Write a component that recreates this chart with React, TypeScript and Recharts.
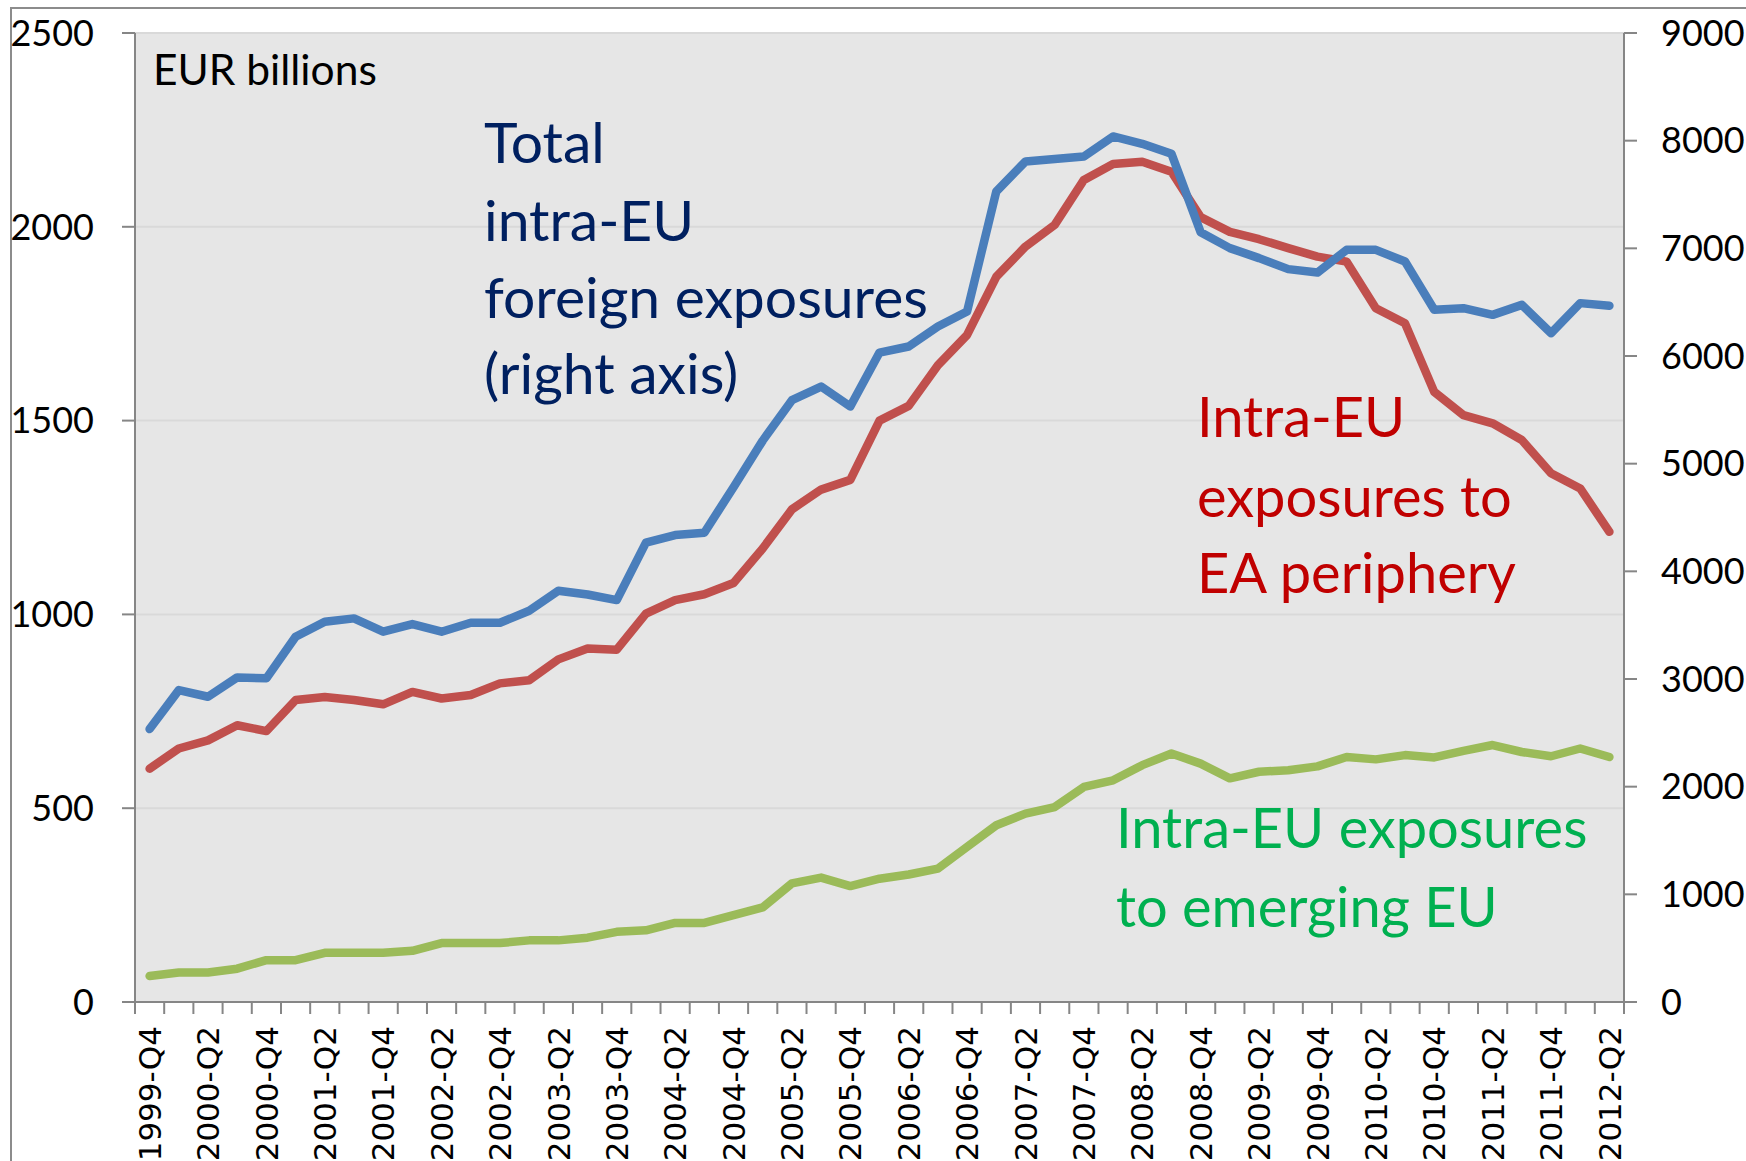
import { LineChart, Line, XAxis, YAxis, CartesianGrid } from "recharts";

const quarters = [
  "1999-Q4", "2000-Q1", "2000-Q2", "2000-Q3", "2000-Q4", "2001-Q1", "2001-Q2", "2001-Q3", "2001-Q4",
  "2002-Q1", "2002-Q2", "2002-Q3", "2002-Q4", "2003-Q1", "2003-Q2", "2003-Q3", "2003-Q4",
  "2004-Q1", "2004-Q2", "2004-Q3", "2004-Q4", "2005-Q1", "2005-Q2", "2005-Q3", "2005-Q4",
  "2006-Q1", "2006-Q2", "2006-Q3", "2006-Q4", "2007-Q1", "2007-Q2", "2007-Q3", "2007-Q4",
  "2008-Q1", "2008-Q2", "2008-Q3", "2008-Q4", "2009-Q1", "2009-Q2", "2009-Q3", "2009-Q4",
  "2010-Q1", "2010-Q2", "2010-Q3", "2010-Q4", "2011-Q1", "2011-Q2", "2011-Q3", "2011-Q4",
  "2012-Q1", "2012-Q2",
];

// right axis
const totalIntraEu = [
  2535, 2897, 2835, 3015, 3006, 3392, 3532, 3563, 3439, 3510, 3439, 3522, 3522, 3634, 3820, 3785, 3733,
  4266, 4337, 4359, 4781, 5214, 5590, 5716, 5530, 6032, 6088, 6274, 6413, 7528, 7807, 7829, 7853,
  8039, 7971, 7878, 7150, 7002, 6909, 6807, 6775, 6986, 6986, 6878, 6429, 6444, 6382, 6475, 6212,
  6491, 6466,
];

// left axis
const eaPeriphery = [
  602, 654, 675, 714, 699, 779, 787, 779, 768, 800, 783, 792, 822, 830, 884, 912, 909,
  1002, 1037, 1052, 1081, 1170, 1271, 1322, 1347, 1500, 1538, 1643, 1721, 1871, 1949, 2005, 2121,
  2162, 2168, 2142, 2025, 1987, 1968, 1945, 1923, 1910, 1790, 1751, 1574, 1514, 1493, 1450, 1364,
  1325, 1213,
];

const emergingEu = [
  67, 76, 76, 86, 108, 108, 127, 127, 127, 132, 152, 152, 152, 159, 159, 166, 181,
  185, 204, 204, 224, 244, 306, 321, 299, 318, 329, 344, 400, 456, 486, 503, 555,
  572, 611, 641, 615, 577, 594, 598, 608, 632, 626, 637, 631, 648, 663, 645, 634,
  654, 632,
];

const leftTicks = [0, 500, 1000, 1500, 2000, 2500];
const rightTicks = [0, 1000, 2000, 3000, 4000, 5000, 6000, 7000, 8000, 9000];

const data = quarters.map((q, i) => ({
  q,
  total: totalIntraEu[i],
  periphery: eaPeriphery[i],
  emerging: emergingEu[i],
}));

const W = 1746;
const H = 1161;
const LEFT_W = 135;
const RIGHT_W = 122;
const PLOT_W = W - LEFT_W - RIGHT_W;
const BAND = PLOT_W / quarters.length;
const AXIS = "#868686";

const XTick = (props: any) => {
  const { x, y, payload, index } = props;
  const half = BAND / 2;
  const last = index === quarters.length - 1;
  return (
    <g>
      <line x1={x - half} x2={x - half} y1={y} y2={y + 12} stroke={AXIS} strokeWidth={2} />
      {last && <line x1={x + half} x2={x + half} y1={y} y2={y + 12} stroke={AXIS} strokeWidth={2} />}
      {index % 2 === 0 && (
        <text
          transform={`translate(${x},${y + 24}) rotate(-90)`}
          textAnchor="end"
          dy="0.36em"
          fontFamily="DejaVu Sans"
          fontSize={31}
          fill="#000"
        >
          {payload.value}
        </text>
      )}
    </g>
  );
};

const yTick = { fontSize: 36, fill: "#000", fontFamily: "Lato" };

export default function App() {
  return (
    <div style={{ position: "absolute", left: 0, top: 0, width: W, height: H, overflow: "hidden", background: "#fff" }}>
      <div style={{ position: "absolute", left: 10, top: 7, width: 1800, height: 1300, border: "2px solid #8c8c8c" }} />
      <div style={{ position: "absolute", left: 0, top: 0 }}>
        <LineChart width={W} height={H} data={data} margin={{ top: 33, right: 0, bottom: 0, left: 0 }}>
          <CartesianGrid yAxisId="left" vertical={false} stroke="#d9d9d9" strokeWidth={2} fill="#e6e6e6" fillOpacity={1} />
          <XAxis
            dataKey="q"
            scale="point"
            padding={{ left: BAND / 2, right: BAND / 2 }}
            interval={0}
            height={159}
            tickSize={0}
            tickMargin={0}
            tickLine={false}
            axisLine={{ stroke: AXIS, strokeWidth: 2 }}
            tick={<XTick />}
          />
          <YAxis
            yAxisId="left"
            width={LEFT_W}
            domain={[0, 2500]}
            ticks={leftTicks}
            tickSize={13}
            tickMargin={28}
            tickLine={{ stroke: AXIS, strokeWidth: 2 }}
            axisLine={{ stroke: AXIS, strokeWidth: 2 }}
            tick={yTick}
          />
          <YAxis
            yAxisId="right"
            orientation="right"
            width={RIGHT_W}
            domain={[0, 9000]}
            ticks={rightTicks}
            tickSize={13}
            tickMargin={24}
            tickLine={{ stroke: AXIS, strokeWidth: 2 }}
            axisLine={{ stroke: AXIS, strokeWidth: 2 }}
            tick={yTick}
          />
          <Line yAxisId="left" type="linear" dataKey="emerging" stroke="#9bbb59" strokeWidth={8.5} dot={false} strokeLinecap="round" strokeLinejoin="round" isAnimationActive={false} />
          <Line yAxisId="left" type="linear" dataKey="periphery" stroke="#c0504d" strokeWidth={8.5} dot={false} strokeLinecap="round" strokeLinejoin="round" isAnimationActive={false} />
          <Line yAxisId="right" type="linear" dataKey="total" stroke="#4a7ebb" strokeWidth={8.5} dot={false} strokeLinecap="round" strokeLinejoin="round" isAnimationActive={false} />
        </LineChart>
      </div>
      <svg width={W} height={H} style={{ position: "absolute", left: 0, top: 0, pointerEvents: "none" }} fontFamily="Lato">
        <text x={153} y={85} fontSize={42.5} fill="#000">EUR billions</text>
        <g fill="#002060" fontSize={57}>
          <text x={484} y={163}>Total</text>
          <text x={484} y={241}>intra-EU</text>
          <text x={484} y={318}>foreign exposures</text>
          <text x={484} y={394}>(right axis)</text>
        </g>
        <g fill="#c00000" fontSize={56}>
          <text x={1197} y={437}>Intra-EU</text>
          <text x={1197} y={517}>exposures to</text>
          <text x={1197} y={593}>EA periphery</text>
        </g>
        <g fill="#00b050" fontSize={56}>
          <text x={1116} y={848}>Intra-EU exposures</text>
          <text x={1116} y={927}>to emerging EU</text>
        </g>
      </svg>
    </div>
  );
}
